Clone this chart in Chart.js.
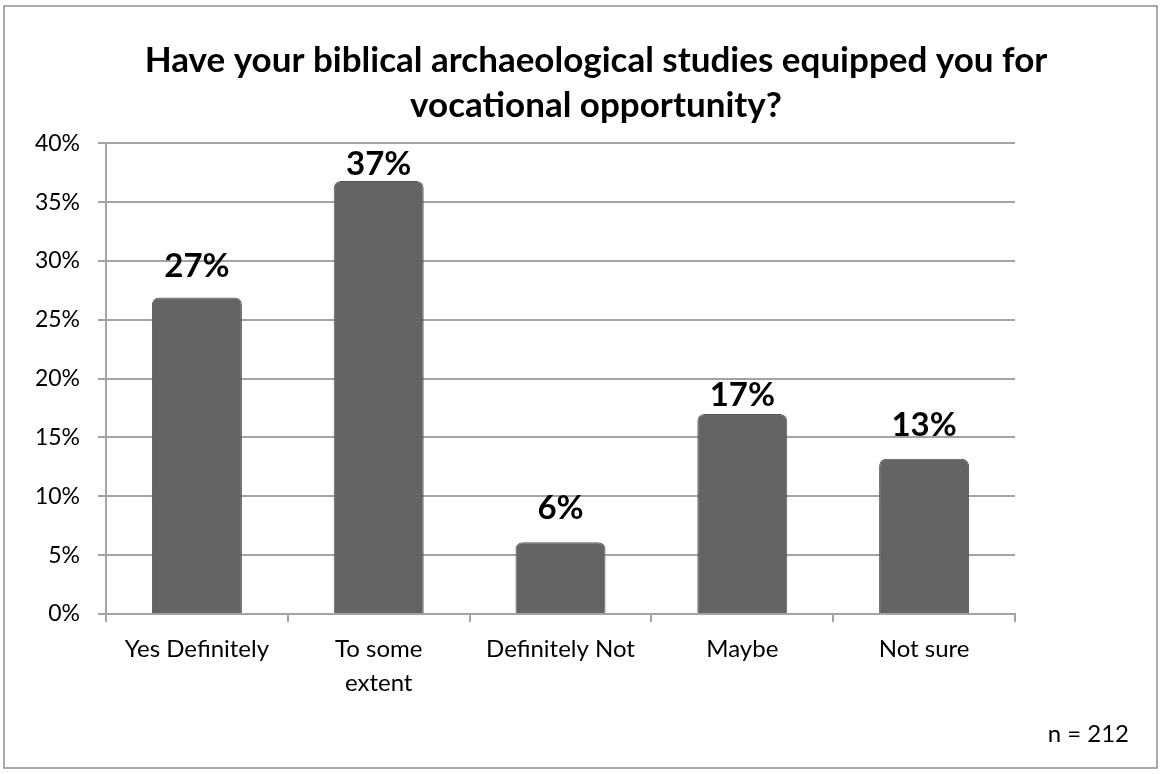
<!DOCTYPE html>
<html>
<head>
<meta charset="utf-8">
<title>Vocational opportunity survey</title>
<script src="https://cdn.jsdelivr.net/npm/chart.js@4.4.1/dist/chart.umd.min.js"></script>
<style>
  html, body { margin: 0; padding: 0; background: #ffffff; }
  #wrap { position: relative; width: 1162px; height: 774px; }
  canvas { display: block; }
</style>
</head>
<body>
<div id="wrap"><canvas id="chart" width="1162" height="774"></canvas></div>
<script>
// Survey answers (share of respondents, %)
const categories = [
  'Yes Definitely',
  ['To some', 'extent'],
  'Definitely Not',
  'Maybe',
  'Not sure'
];
const shares = [26.9, 36.8, 6.1, 17.0, 13.2];

// Value axis
const yMin = 0;
const yMax = 40;
const yStep = 5;

const titleLines = [
  'Have your biblical archaeological studies equipped you for',
  'vocational opportunity?'
];
const sampleNote = 'n = 212';

const FONT = 'Lato, "Open Sans", "DejaVu Sans", sans-serif';
const GRID = '#a3a3a3';

// Outer frame around the whole chart
const framePlugin = {
  id: 'frame',
  beforeDraw(chart) {
    const { ctx, width, height } = chart;
    ctx.save();
    ctx.fillStyle = '#ffffff';
    ctx.fillRect(0, 0, width, height);
    ctx.strokeStyle = '#8f8f8f';
    ctx.lineWidth = 1.5;
    ctx.strokeRect(4, 6, width - 9, height - 12);
    ctx.restore();
  }
};

// Bold percentage above each column
const valueLabelPlugin = {
  id: 'valueLabels',
  afterDatasetsDraw(chart, args, opts) {
    const { ctx } = chart;
    const meta = chart.getDatasetMeta(0);
    const values = chart.data.datasets[0].data;
    ctx.save();
    ctx.font = 'bold 33px ' + FONT;
    ctx.fillStyle = '#000000';
    ctx.textAlign = 'center';
    ctx.textBaseline = 'alphabetic';
    meta.data.forEach((bar, i) => {
      const lift = opts.lift[i % opts.lift.length];
      ctx.fillText(Math.round(values[i]) + '%', bar.x, bar.y - lift);
    });
    ctx.restore();
  }
};

// Sample size note in the lower right corner
const notePlugin = {
  id: 'sampleNote',
  afterDraw(chart, args, opts) {
    const { ctx } = chart;
    ctx.save();
    ctx.font = '24px ' + FONT;
    ctx.fillStyle = '#000000';
    ctx.textAlign = 'right';
    ctx.textBaseline = 'alphabetic';
    ctx.fillText(opts.text, chart.width - 33, chart.height - 32);
    ctx.restore();
  }
};

new Chart(document.getElementById('chart'), {
  type: 'bar',
  data: {
    labels: categories,
    datasets: [{
      data: shares,
      backgroundColor: '#646464',
      borderColor: '#565656',
      borderWidth: 1,
      borderSkipped: 'bottom',
      borderRadius: { topLeft: 7, topRight: 7 },
      categoryPercentage: 1,
      barPercentage: 0.495
    }]
  },
  options: {
    responsive: false,
    animation: false,
    devicePixelRatio: 1,
    layout: { padding: { left: 30, top: 0, right: 0, bottom: 0 } },
    plugins: {
      legend: { display: false },
      tooltip: { enabled: false },
      title: {
        display: true,
        text: titleLines,
        color: '#000000',
        font: { family: FONT, size: 35, weight: 'bold', lineHeight: 1.29 },
        padding: { top: 38, bottom: 15 }
      },
      valueLabels: { lift: [20, 6, 23, 8, 23] },
      sampleNote: { text: sampleNote }
    },
    scales: {
      x: {
        grid: {
          display: true,
          offset: true,
          drawOnChartArea: false,
          drawTicks: true,
          tickLength: 8,
          color: GRID,
          lineWidth: 2
        },
        border: { display: true, color: GRID, width: 2 },
        ticks: {
          color: '#000000',
          font: { family: FONT, size: 24, lineHeight: 1.42 },
          padding: 10,
          maxRotation: 0,
          autoSkip: false
        },
        afterFit(scale) { scale.height = 160; }
      },
      y: {
        min: yMin,
        max: yMax,
        ticks: {
          stepSize: yStep,
          color: '#000000',
          font: { family: FONT, size: 23 },
          padding: 18,
          callback: v => v + '%'
        },
        grid: { color: GRID, lineWidth: 2, tickLength: 8 },
        border: { display: true, color: GRID, width: 2 },
        afterFit(scale) { scale.width = 76; }
      },
      side: {
        position: 'right',
        display: true,
        grid: { display: false },
        ticks: { display: false },
        border: { display: false },
        afterFit(scale) { scale.width = 147; }
      }
    }
  },
  plugins: [framePlugin, valueLabelPlugin, notePlugin]
});
</script>
</body>
</html>
